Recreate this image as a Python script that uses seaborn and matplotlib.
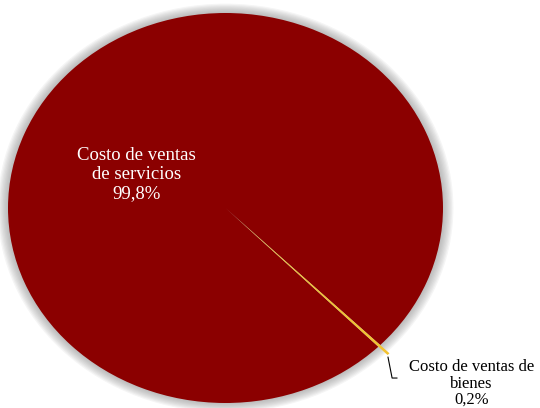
import matplotlib
matplotlib.use("Agg")
import matplotlib.pyplot as plt
import seaborn as sns
from matplotlib.patches import Ellipse

# ----- data -----
categorias = ["Costo de ventas\nde servicios", "Costo de ventas de\nbienes"]
valores    = [99.8, 0.2]
etiquetas  = ["99,8%", "0,2%"]
colores    = ["#8B0000", "#F2C230"]

sns.set_theme(style="white")
plt.rcParams["font.family"] = ["Liberation Serif", "DejaVu Serif"]

fig = plt.figure(figsize=(5.4, 4.08), dpi=100)
ax = fig.add_axes([8 / 540, 5 / 408, 435 / 540, 390 / 408])

# soft grey glow around the pie
for k in range(8, 0, -1):
    r = 1 + k * 0.006
    ax.add_patch(Ellipse((0, 0), 2 * r, 2 * r, color="grey",
                         alpha=0.08, lw=0, zorder=0, clip_on=False))

# bienes slice centred at -45 deg
start = -45 + 360 * valores[1] / 100 / 2 - 360
wedges, _ = ax.pie(valores, colors=colores, startangle=start,
                   explode=[0, 0.06], radius=1,
                   wedgeprops=dict(linewidth=0), frame=False)
for w in wedges:
    w.set_clip_on(False)
    w.set_zorder(2)

ax.set_aspect("auto")
ax.set_xlim(-1, 1)
ax.set_ylim(-1, 1)
ax.axis("off")

# labels
ax.text(-0.41, 0.17, f"{categorias[0]}\n{etiquetas[0]}", color="white",
        ha="center", va="center", fontsize=13.5, linespacing=1.17)
ax.text(1.131, -0.90, f"{categorias[1]}\n{etiquetas[1]}", color="black",
        ha="center", va="center", fontsize=12, linespacing=1.05,
        clip_on=False)
ax.plot([0.747, 0.766, 0.789], [-0.764, -0.872, -0.872], color="black",
        lw=0.8, clip_on=False, zorder=3)

fig.savefig("out.png", dpi=100)
